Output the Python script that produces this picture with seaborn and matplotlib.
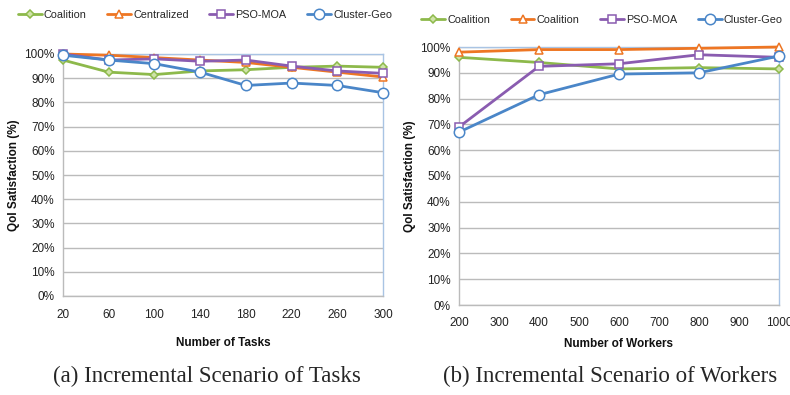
import numpy as np
import pandas as pd
import matplotlib
matplotlib.use("Agg")
import matplotlib.pyplot as plt
import seaborn as sns
from matplotlib.ticker import PercentFormatter

# ---- data ----
tasks = [20, 60, 100, 140, 180, 220, 260, 300]
tasks_coalition = [97.5, 92.5, 91.5, 93, 93.5, 94.5, 95, 94.5]
tasks_centralized = [100, 99.5, 98.5, 97.5, 96.5, 94.5, 92.5, 90.5]
tasks_pso = [100, 97.5, 98, 97, 97.5, 95, 93, 92]
tasks_cluster = [99.5, 97.5, 96, 92.5, 87, 88, 87, 84]
tasks_labels = ["Coalition", "Centralized", "PSO-MOA", "Cluster-Geo"]

workers = [200, 400, 600, 800, 1000]
workers_coalition = [96, 94, 91.5, 92, 91.5]
workers_coalition2 = [98, 99, 99, 99.5, 100]
workers_pso = [69, 92.5, 93.5, 97, 96]
workers_cluster = [67, 81.5, 89.5, 90, 96.5]
workers_labels = ["Coalition", "Coalition", "PSO-MOA", "Cluster-Geo"]

y_ticks = list(range(0, 101, 10))
tasks_ticks = [20, 60, 100, 140, 180, 220, 260, 300]
workers_ticks = [200, 300, 400, 500, 600, 700, 800, 900, 1000]

colors = ["#8DB94B", "#EE7623", "#8A5CB0", "#4A86C8"]
markers = ["D", "^", "s", "o"]
msizes = [4.5, 6, 6, 7.5]

sns.set_style("white")
plt.rcParams['font.family'] = ['Liberation Sans', 'DejaVu Sans']

fig = plt.figure(figsize=(7.9, 3.95), dpi=100)
ax1 = fig.add_axes([63/790, (395-296)/395, 320/790, 242/395])
ax2 = fig.add_axes([459/790, (395-305)/395, 320/790, 258/395])


def draw(ax, x, series, labels, xticks, xlabel, caption, legend_pos, cap_x):
    keys = [f"s{i}" for i in range(len(series))]
    df = pd.concat([pd.DataFrame({"x": x, "y": s, "series": k}) for s, k in zip(series, keys)])
    sns.lineplot(data=df, x="x", y="y", hue="series", palette=dict(zip(keys, colors)),
                 ax=ax, linewidth=2.0, legend=False, zorder=3)
    handles = []
    for line, c, m, ms in zip(ax.get_lines(), colors, markers, msizes):
        line.set_marker(m)
        line.set_markersize(ms)
        line.set_markeredgecolor(c)
        line.set_markeredgewidth(1.1)
        line.set_markerfacecolor("#FFFFFF" if m != "D" else "#CFE3A8")
        line.set_solid_capstyle("round")
        line.set_clip_on(False)
        handles.append(line)
    ax.set_xlim(xticks[0], xticks[-1])
    ax.set_ylim(0, 100)
    ax.set_xticks(xticks)
    ax.set_yticks(y_ticks)
    ax.yaxis.set_major_formatter(PercentFormatter(decimals=0))
    ax.grid(axis="y", color="#BBBBBB", linewidth=1.0, zorder=0)
    ax.grid(axis="x", visible=False)
    for s in ["left", "bottom"]:
        ax.spines[s].set_color("#BBBBBB")
        ax.spines[s].set_linewidth(1.0)
    for s in ["top", "right"]:
        ax.spines[s].set_visible(True)
        ax.spines[s].set_color("#A9C4E4")
        ax.spines[s].set_linewidth(1.0)
    ax.tick_params(axis="x", direction="out", length=4, color="#BBBBBB", labelsize=8.5,
                   labelcolor="#222222", pad=5)
    ax.tick_params(axis="y", direction="out", length=4, color="#BBBBBB", labelsize=8.5,
                   labelcolor="#222222", pad=2)
    ax.set_xlabel(xlabel, fontsize=8.5, fontweight="bold", labelpad=12, color="#111111")
    ax.set_ylabel("QoI Satisfaction (%)", fontsize=8.5, fontweight="bold", labelpad=3,
                  color="#111111")
    ax.legend(handles, labels, loc="center", bbox_to_anchor=legend_pos, ncol=4,
              frameon=False, fontsize=7.8, handlelength=2.2, columnspacing=1.9,
              handletextpad=0.2, bbox_transform=fig.transFigure)
    fig.text(cap_x, 1 - 376/395, caption, ha="center", va="center", fontsize=16.5,
             family="Liberation Serif")


draw(ax1, tasks, [tasks_coalition, tasks_centralized, tasks_pso, tasks_cluster],
     tasks_labels, tasks_ticks, "Number of Tasks", "(a) Incremental Scenario of Tasks",
     (205/790, 1 - 15/395), 207/790)
draw(ax2, workers, [workers_coalition, workers_coalition2, workers_pso, workers_cluster],
     workers_labels, workers_ticks, "Number of Workers", "(b) Incremental Scenario of Workers",
     (602/790, 1 - 20/395), 610/790)
ax2.xaxis.labelpad = 6

fig.savefig("out.png", dpi=100)
